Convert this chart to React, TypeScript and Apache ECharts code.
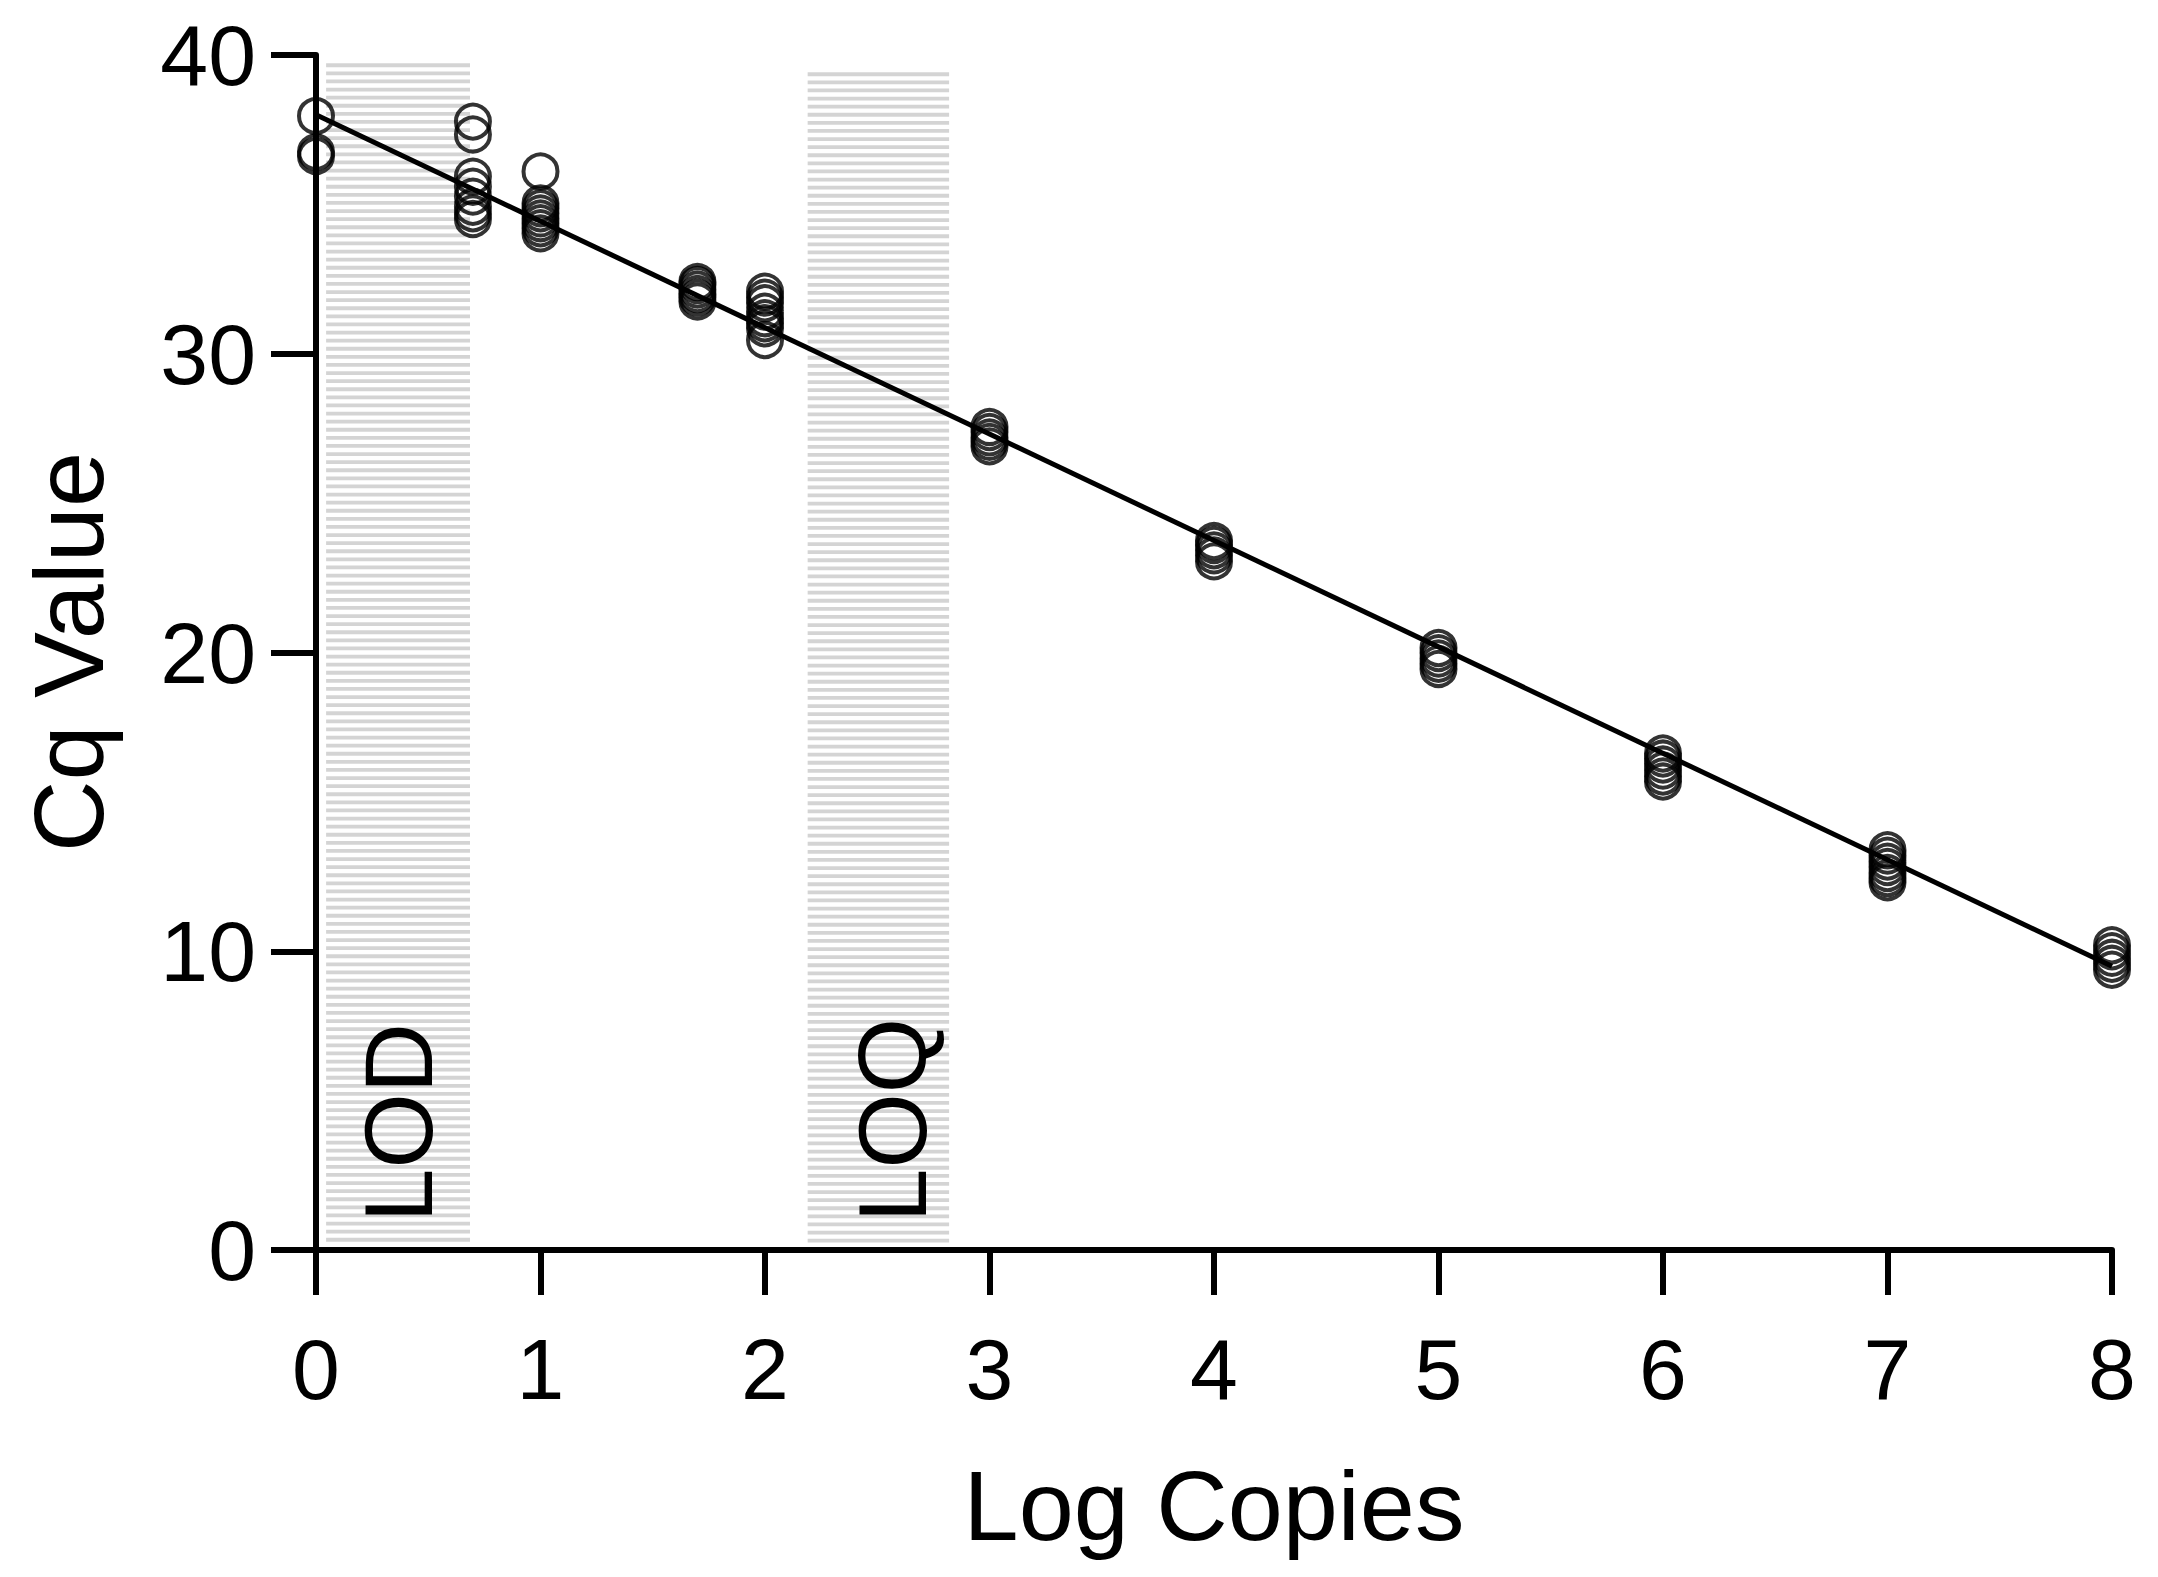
import React, { useEffect, useRef } from "react";
import * as echarts from "echarts";

// ---- Data ----
const logCopies = [0, 0.699, 1, 1.699, 2, 3, 4, 5, 6, 7, 8];
const cq_0 = [37.96, 36.75, 36.62];
const cq_0699 = [37.77, 37.34, 35.93, 35.59, 35.26, 34.92, 34.7, 34.51];
const cq_1 = [36.1, 35.03, 34.87, 34.7, 34.53, 34.37, 34.2, 34.03];
const cq_1699 = [32.4, 32.3, 32.15, 32.0, 31.88, 31.75];
const cq_2 = [32.08, 31.88, 31.69, 31.41, 31.19, 31.02, 30.85, 30.46];
const cq_3 = [27.55, 27.38, 27.2, 27.05, 26.9];
const cq_4 = [23.73, 23.6, 23.42, 23.25, 23.05];
const cq_5 = [20.15, 19.98, 19.8, 19.62, 19.45];
const cq_6 = [16.62, 16.45, 16.25, 16.05, 15.85, 15.68];
const cq_7 = [13.38, 13.2, 13.0, 12.82, 12.62, 12.45, 12.31];
const cq_8 = [10.2, 10.0, 9.78, 9.58, 9.38];
const cqGroups = [cq_0, cq_0699, cq_1, cq_1699, cq_2, cq_3, cq_4, cq_5, cq_6, cq_7, cq_8];

const fitX = [0, 8];
const fitY = [38.0, 9.5];

// shaded regions: [xStart, xEnd, yBottom, yTop, label]
const bandLabels = ["LOD", "LOQ"];
const bandX0 = [0.045, 2.19];
const bandX1 = [0.686, 2.82];
const bandY0 = [0.25, 0.25];
const bandY1 = [39.72, 39.42];

const xTicks = [0, 1, 2, 3, 4, 5, 6, 7, 8];
const yTicks = [0, 10, 20, 30, 40];

// ---- Style ----
const FONT = "Liberation Sans, Arial, sans-serif";
const bandLabelShift = [0, 14];

export default function App() {
  const ref = useRef<HTMLDivElement>(null);

  useEffect(() => {
    document.body.style.margin = "0";
    const chart = echarts.init(ref.current!, null, { renderer: "svg" });

    const scatterData: number[][] = [];
    cqGroups.forEach((g, i) => g.forEach((v) => scatterData.push([logCopies[i], v])));

    const bandData = bandLabels.map((l, i) => [bandX0[i], bandX1[i], bandY0[i], bandY1[i], i]);

    const option: any = {
      animation: false,
      backgroundColor: "#ffffff",
      grid: { left: 316, top: 55, width: 1796, height: 1195 },
      xAxis: {
        type: "value",
        min: xTicks[0],
        max: xTicks[xTicks.length - 1],
        interval: 1,
        splitLine: { show: false },
        axisLine: { show: true, onZero: false, lineStyle: { color: "#000", width: 6 } },
        axisTick: { show: true, length: 45, lineStyle: { color: "#000", width: 6 } },
        axisLabel: { color: "#000", fontSize: 86, fontFamily: FONT, margin: 76 },
      },
      yAxis: {
        type: "value",
        min: yTicks[0],
        max: yTicks[yTicks.length - 1],
        interval: 10,
        splitLine: { show: false },
        axisLine: { show: true, onZero: false, lineStyle: { color: "#000", width: 6 } },
        axisTick: { show: true, length: 45, lineStyle: { color: "#000", width: 6 } },
        axisLabel: { color: "#000", fontSize: 86, fontFamily: FONT, margin: 60 },
      },
      graphic: [
        {
          type: "text",
          x: 1214,
          y: 1505,
          style: {
            text: "Log Copies",
            fontSize: 99,
            fontFamily: FONT,
            fill: "#000",
            textAlign: "center",
            textVerticalAlign: "middle",
          },
        },
        {
          type: "text",
          x: 68,
          y: 652,
          rotation: Math.PI / 2,
          style: {
            text: "Cq Value",
            fontSize: 99,
            fontFamily: FONT,
            fill: "#000",
            textAlign: "center",
            textVerticalAlign: "middle",
          },
        },
      ],
      series: [
        {
          type: "custom",
          data: bandData,
          z: 1,
          silent: true,
          renderItem: (params: any, api: any) => {
            const p0 = api.coord([api.value(0), api.value(3)]);
            const p1 = api.coord([api.value(1), api.value(2)]);
            const idx = api.value(4);
            const children: any[] = [];
            for (let y = p0[1]; y < p1[1]; y += 8.1) {
              children.push({
                type: "rect",
                shape: { x: p0[0], y: y, width: p1[0] - p0[0], height: 3.8 },
                style: { fill: "#d4d4d4" },
              });
            }
            children.push({
              type: "text",
              x: (p0[0] + p1[0]) / 2 + bandLabelShift[idx],
              y: p1[1] - 20,
              rotation: Math.PI / 2,
              style: {
                text: bandLabels[idx],
                fontSize: 97,
                fontFamily: FONT,
                fill: "#000",
                textAlign: "left",
                textVerticalAlign: "middle",
              },
            });
            return { type: "group", children };
          },
        },
        {
          type: "line",
          data: fitX.map((x, i) => [x, fitY[i]]),
          symbol: "none",
          z: 3,
          lineStyle: { color: "#000", width: 5 },
        },
        {
          type: "scatter",
          data: scatterData,
          symbol: "circle",
          symbolSize: 34,
          z: 4,
          itemStyle: { color: "rgba(0,0,0,0)", borderColor: "#000", borderWidth: 4 },
        },
      ],
    };

    chart.setOption(option);
    return () => chart.dispose();
  }, []);

  return <div ref={ref} style={{ width: 2158, height: 1577 }} />;
}
